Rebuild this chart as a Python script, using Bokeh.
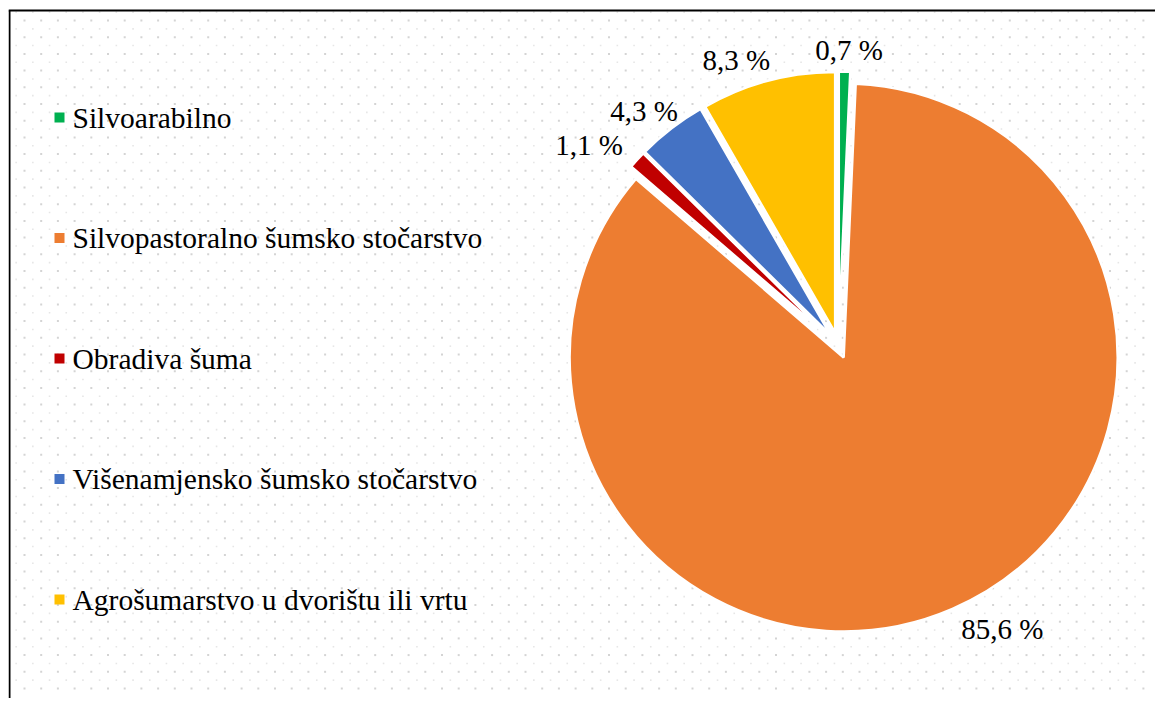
import numpy as np
from bokeh.plotting import figure
from bokeh.models import ColumnDataSource, Range1d, GlobalInlineStyleSheet
from bokeh.embed import file_html
from bokeh.resources import INLINE
from bokeh.core.properties import value

# ---- data ----
categories = [
    "Silvoarabilno",
    "Silvopastoralno šumsko stočarstvo",
    "Obradiva šuma",
    "Višenamjensko šumsko stočarstvo",
    "Agrošumarstvo u dvorištu ili vrtu",
]
shares = [0.7, 85.6, 1.1, 4.3, 8.3]
share_labels = ["0,7 %", "85,6 %", "1,1 %", "4,3 %", "8,3 %"]
colors = ["#00B050", "#ED7D31", "#C00000", "#4472C4", "#FFC000"]

# ---- layout constants (pixels) ----
W, H = 1155, 698
BL, BT = 8, 8
FW, FH = W - BL, H - BT


def fy(page_y):
    """page pixel row -> frame y (upwards)"""
    return FH - (page_y - BT)


CX, CY = 838 - BL, fy(345)     # pie centre
EXPLODE = 13
R_BIG, R_SMALL = 274, 261
LABEL_GAP = 22
LABEL_NUDGE_X = [4, 0, 2, 20, 8]
FONT = "Liberation Serif"
DOT_STEP = 16.7

vals = np.array(shares, dtype=float)
frac = vals / vals.sum()
cum = np.concatenate([[0.0], np.cumsum(frac)])
f0, f1 = cum[:-1], cum[1:]
start = np.pi / 2 - 2 * np.pi * f1
end = np.pi / 2 - 2 * np.pi * f0
mid = (start + end) / 2
radius = np.where(vals == vals.max(), R_BIG, R_SMALL)
wx = CX + EXPLODE * np.cos(mid)
wy = CY + EXPLODE * np.sin(mid)

dist = EXPLODE + radius + LABEL_GAP
lx = CX + dist * np.cos(mid) + np.array(LABEL_NUDGE_X)
ly = CY + dist * np.sin(mid)
align = ["right" if c < -0.1 else ("left" if c > 0.1 else "center") for c in np.cos(mid)]

src = ColumnDataSource(dict(
    cat=categories, x=wx, y=wy, r=radius, start=start, end=end, color=colors,
    lx=lx, ly=ly, lab=share_labels, align=align,
))

p = figure(width=W, height=H, x_range=Range1d(0, FW), y_range=Range1d(0, FH),
           output_backend="svg", toolbar_location=None,
           x_axis_type=None, y_axis_type=None,
           min_border_left=BL, min_border_top=BT, min_border_right=0, min_border_bottom=0,
           border_fill_color="white", background_fill_color="white",
           outline_line_color=None, outline_line_alpha=0)
p.grid.visible = False
p.stylesheets = [GlobalInlineStyleSheet(css="html, body { overflow: hidden; }")]

# dotted background pattern (decoration)
gx, gy = np.meshgrid(np.arange(16, FW, DOT_STEP), np.arange(fy(20), 0, -DOT_STEP))
p.scatter(gx.ravel(), gy.ravel(), marker="square", size=2, fill_color="#d4d4d4", line_color=None)
p.scatter(gx.ravel() - DOT_STEP / 2, gy.ravel() + DOT_STEP / 2, marker="square", size=1.6,
          fill_color="#e6e6e6", line_color=None)

# frame lines (top & left)
p.segment(x0=[1, 0], y0=[0, FH - 2], x1=[1, FW], y1=[FH - 2, FH - 2],
          line_color="black", line_width=2)

p.wedge(x="x", y="y", radius="r", start_angle="start", end_angle="end",
        fill_color="color", line_color="white", line_width=2.5, source=src)

p.text(x="lx", y="ly", text="lab", text_align="align", text_baseline="middle",
       text_font=value(FONT), text_font_size="29px", text_color="black", source=src)

# legend (manual)
LEG_X, LEG_TOP, LEG_STEP = 59 - BL, fy(117), 120.5
idx = np.arange(len(categories))
leg = ColumnDataSource(dict(x=np.full(len(idx), LEG_X), tx=np.full(len(idx), LEG_X + 13),
                            y=LEG_TOP - LEG_STEP * idx, cat=categories, color=colors))
p.scatter(x="x", y="y", marker="square", size=10, fill_color="color", line_color=None, source=leg)
p.text(x="tx", y="y", text="cat", text_align="left", text_baseline="middle",
       text_font=value(FONT), text_font_size="29.5px", text_color="black", source=leg)

open("out.html", "w").write(file_html(p, INLINE))
